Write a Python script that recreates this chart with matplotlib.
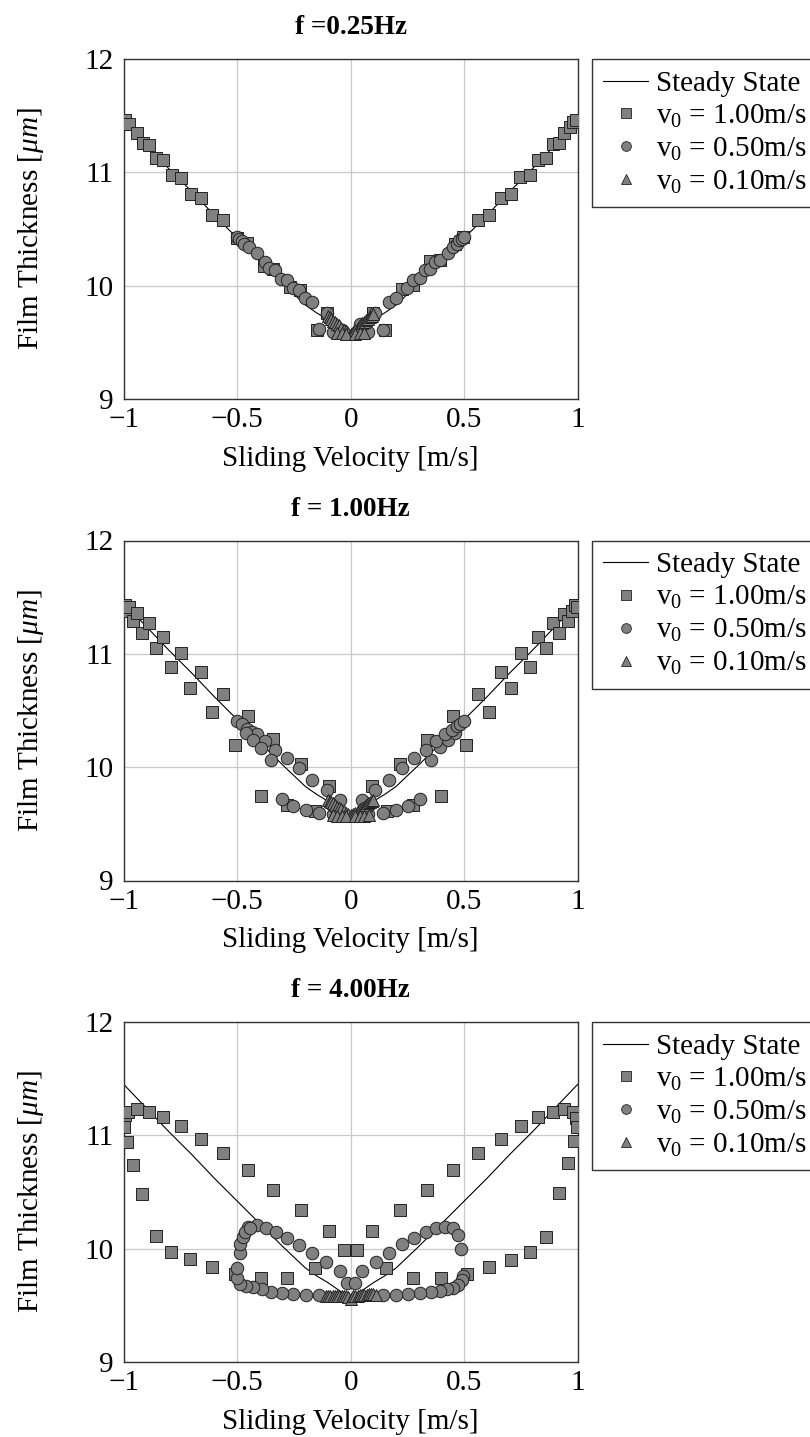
import matplotlib
matplotlib.use("Agg")
import matplotlib.pyplot as plt
from matplotlib.lines import Line2D

plt.rcParams['font.family'] = ['Liberation Serif', 'DejaVu Serif']
plt.rcParams['mathtext.fontset'] = 'custom'
plt.rcParams['mathtext.rm'] = 'Liberation Serif'
plt.rcParams['mathtext.it'] = 'Liberation Serif:italic'
plt.rcParams['mathtext.bf'] = 'Liberation Serif:bold'
plt.rcParams['axes.unicode_minus'] = True

# ---------------- data ----------------
titles = ["f =0.25Hz", "f = 1.00Hz", "f = 4.00Hz"]
legend_labels = ["Steady State", r"v$_\mathregular{0}$ = 1.00m/s",
                 r"v$_\mathregular{0}$ = 0.50m/s", r"v$_\mathregular{0}$ = 0.10m/s"]
xticks = [-1, -0.5, 0, 0.5, 1]
xticklabels = ["\u22121", "\u22120.5", "0", "0.5", "1"]
yticks = [9, 10, 11, 12]

# steady state curve
ss_v = [-1.0, -0.9, -0.8, -0.7, -0.6, -0.5, -0.4, -0.3, -0.2, -0.15, -0.1, -0.05, 0.0,
        0.05, 0.1, 0.15, 0.2, 0.3, 0.4, 0.5, 0.6, 0.7, 0.8, 0.9, 1.0]
ss_h = [11.45, 11.24, 11.03, 10.83, 10.62, 10.42, 10.22, 10.02, 9.83, 9.76, 9.70, 9.63, 9.56,
        9.63, 9.70, 9.76, 9.83, 10.02, 10.22, 10.42, 10.62, 10.83, 11.03, 11.24, 11.45]

# ---- f = 0.25 Hz ----
sq1_x = [-0.994, -0.975, -0.943, -0.913, -0.888, -0.859, -0.828, -0.789, -0.749, -0.705, -0.661,
         -0.612, -0.564, -0.502, -0.458, -0.382, -0.341, -0.267, -0.223, -0.106, -0.150,
         0.100, 0.151, 0.225, 0.273, 0.349, 0.393, 0.459, 0.496, 0.562, 0.611, 0.661, 0.705,
         0.746, 0.790, 0.827, 0.859, 0.890, 0.919, 0.940, 0.966, 0.981, 0.993]
sq1_y = [11.46, 11.43, 11.35, 11.26, 11.24, 11.13, 11.11, 10.98, 10.95, 10.81, 10.77,
         10.62, 10.58, 10.42, 10.38, 10.17, 10.15, 9.99, 9.96, 9.76, 9.61,
         9.76, 9.61, 9.97, 10.01, 10.22, 10.23, 10.37, 10.43, 10.58, 10.62, 10.77, 10.81,
         10.96, 10.98, 11.11, 11.13, 11.25, 11.26, 11.35, 11.40, 11.44, 11.46]
ci1_x = [-0.502, -0.490, -0.480, -0.468, -0.446, -0.414, -0.377, -0.358, -0.333, -0.308, -0.282,
         -0.256, -0.226, -0.200, -0.169, -0.106, -0.138, -0.076, -0.040,
         0.040, 0.078, 0.107, 0.144, 0.170, 0.200, 0.250, 0.276, 0.305, 0.327, 0.349, 0.371,
         0.393, 0.430, 0.452, 0.467, 0.479, 0.489, 0.501]
ci1_y = [10.43, 10.41, 10.39, 10.37, 10.34, 10.29, 10.21, 10.16, 10.14, 10.06, 10.05,
         9.98, 9.96, 9.89, 9.86, 9.76, 9.62, 9.59, 9.61,
         9.66, 9.59, 9.76, 9.61, 9.86, 9.89, 9.98, 10.05, 10.07, 10.14, 10.15, 10.21,
         10.23, 10.29, 10.34, 10.37, 10.40, 10.41, 10.43]
tr1_x = [-0.100, -0.092, -0.085, -0.077, -0.069, -0.060, -0.051, -0.041, -0.031, -0.021, -0.010,
         0.000, 0.010, 0.021, 0.031, 0.041, 0.051, 0.060, 0.069, 0.077, 0.085, 0.092, 0.100,
         -0.060, -0.040, -0.020, 0.020, 0.040, 0.060]
tr1_y = [9.73, 9.72, 9.71, 9.69, 9.68, 9.66, 9.65, 9.63, 9.61, 9.60, 9.58,
         9.57, 9.59, 9.61, 9.63, 9.65, 9.67, 9.68, 9.70, 9.71, 9.72, 9.73, 9.75,
         9.58, 9.58, 9.57, 9.57, 9.58, 9.58]

# ---- f = 1.00 Hz ----
sq2_x = [-0.994, -0.985, -0.975, -0.960, -0.943, -0.918, -0.888, -0.859, -0.828, -0.791, -0.749,
         -0.708, -0.661, -0.612, -0.564, -0.510, -0.454, -0.396, -0.341, -0.282, -0.219,
         -0.157, -0.095,
         0.093, 0.159, 0.217, 0.276, 0.335, 0.396, 0.452, 0.508, 0.562, 0.611, 0.662, 0.706,
         0.750, 0.790, 0.827, 0.860, 0.890, 0.919, 0.940, 0.959, 0.974, 0.988, 0.996]
sq2_y = [11.43, 11.38, 11.41, 11.29, 11.36, 11.18, 11.27, 11.05, 11.15, 10.88, 11.01,
         10.70, 10.84, 10.49, 10.65, 10.20, 10.45, 9.75, 10.25, 9.67, 10.03,
         9.61, 9.83,
         9.83, 9.61, 10.03, 9.67, 10.24, 9.75, 10.45, 10.20, 10.65, 10.49, 10.84, 10.70,
         11.01, 10.88, 11.15, 11.05, 11.27, 11.18, 11.35, 11.29, 11.38, 11.43, 11.41]
ci2_x = [-0.502, -0.480, -0.458, -0.436, -0.414, -0.377, -0.333, -0.282, -0.226, -0.169, -0.106,
         -0.047, -0.461, -0.429, -0.396, -0.352, -0.304, -0.256, -0.198, -0.139, -0.076,
         0.078, 0.141, 0.200, 0.254, 0.305, 0.352, 0.394, 0.430, 0.460,
         0.048, 0.107, 0.170, 0.228, 0.279, 0.332, 0.376, 0.416, 0.445, 0.467, 0.482, 0.501]
ci2_y = [10.41, 10.38, 10.34, 10.31, 10.29, 10.23, 10.15, 10.08, 9.99, 9.89, 9.80,
         9.71, 10.30, 10.24, 10.17, 10.06, 9.72, 9.66, 9.62, 9.60, 9.59,
         9.59, 9.60, 9.62, 9.66, 9.72, 10.06, 10.18, 10.24, 10.30,
         9.71, 9.80, 9.89, 9.99, 10.08, 10.15, 10.23, 10.29, 10.33, 10.36, 10.38, 10.41]
tr2_x = [-0.100, -0.092, -0.085, -0.077, -0.069, -0.060, -0.051, -0.041, -0.031, -0.021, -0.010,
         0.000, 0.010, 0.021, 0.031, 0.041, 0.051, 0.060, 0.069, 0.077, 0.085, 0.092, 0.100,
         -0.080, -0.060, -0.040, -0.020, 0.020, 0.040, 0.060, 0.080]
tr2_y = [9.71, 9.70, 9.69, 9.68, 9.67, 9.65, 9.64, 9.63, 9.61, 9.60, 9.59,
         9.58, 9.59, 9.60, 9.61, 9.63, 9.64, 9.65, 9.67, 9.68, 9.69, 9.70, 9.71,
         9.58, 9.57, 9.57, 9.57, 9.57, 9.57, 9.57, 9.58]

# ---- f = 4.00 Hz ----
sq3_x = [-0.994, -0.999, -0.987, -0.960, -0.918, -0.859, -0.791, -0.708, -0.612, -0.510, -0.396,
         -0.279, -0.157, -0.029,
         -0.979, -0.940, -0.888, -0.828, -0.749, -0.661, -0.564, -0.454, -0.341, -0.219, -0.095,
         0.029, 0.093, 0.217, 0.338, 0.452, 0.562, 0.661, 0.750, 0.827, 0.890, 0.940, 0.978,
         0.993, 0.996, 0.984, 0.959, 0.918, 0.860, 0.790, 0.706, 0.611, 0.511, 0.396, 0.276, 0.156]
sq3_y = [11.18, 11.07, 10.94, 10.74, 10.48, 10.11, 9.97, 9.91, 9.84, 9.78, 9.74,
         9.74, 9.83, 9.99,
         11.21, 11.23, 11.21, 11.16, 11.08, 10.97, 10.84, 10.69, 10.52, 10.34, 10.16,
         9.99, 10.16, 10.34, 10.52, 10.69, 10.84, 10.97, 11.08, 11.16, 11.21, 11.23, 11.21,
         11.15, 11.07, 10.95, 10.76, 10.49, 10.10, 9.97, 9.90, 9.84, 9.78, 9.74, 9.74, 9.83]
ci3_x = [-0.451, -0.414, -0.374, -0.330, -0.282, -0.226, -0.169, -0.109, -0.047, -0.018,
         0.019, 0.048, 0.110, 0.170, 0.228, 0.279, 0.332, 0.376, 0.416, 0.449, 0.471, 0.486,
         0.496, 0.489, 0.474, 0.449, 0.423, 0.394, 0.352, 0.305, 0.254, 0.198, 0.141,
         -0.139, -0.198, -0.256, -0.304, -0.352, -0.392, -0.429, -0.461, -0.488, -0.499, -0.499,
         -0.488, -0.488, -0.473, -0.465, -0.443]
ci3_y = [10.19, 10.21, 10.18, 10.15, 10.09, 10.03, 9.96, 9.88, 9.80, 9.70,
         9.70, 9.80, 9.88, 9.96, 10.04, 10.09, 10.15, 10.18, 10.19, 10.18, 10.12, 10.00,
         9.76, 9.72, 9.68, 9.65, 9.64, 9.63, 9.62, 9.61, 9.60, 9.59, 9.59,
         9.59, 9.59, 9.60, 9.61, 9.62, 9.64, 9.66, 9.67, 9.69, 9.74, 9.83,
         9.96, 10.04, 10.10, 10.15, 10.18]
tr3_x = [-0.110, -0.100, -0.090, -0.080, -0.070, -0.060, -0.050, -0.040, -0.030, -0.020, -0.010,
         0.000, 0.010, 0.020, 0.030, 0.040, 0.050, 0.060, 0.070, 0.080, 0.090, 0.100, 0.110]
tr3_y = [9.58, 9.58, 9.58, 9.58, 9.58, 9.58, 9.58, 9.58, 9.58, 9.58, 9.57,
         9.56, 9.58, 9.58, 9.58, 9.59, 9.59, 9.59, 9.59, 9.60, 9.60, 9.60, 9.59]

panels = [
    (sq1_x, sq1_y, ci1_x, ci1_y, tr1_x, tr1_y),
    (sq2_x, sq2_y, ci2_x, ci2_y, tr2_x, tr2_y),
    (sq3_x, sq3_y, ci3_x, ci3_y, tr3_x, tr3_y),
]

# ---------------- figure ----------------
W, H = 810, 1437
fig = plt.figure(figsize=(W / 100, H / 100), dpi=100)
ax_left = 123.7 / W
ax_w = 454 / W
ax_h = 340 / H
tops = [59, 540.5, 1022]

face = '#808080'
fs = 21

for i, (sx, sy, cx, cy, tx, ty) in enumerate(panels):
    bottom = 1 - (tops[i] + 340) / H
    ax = fig.add_axes([ax_left, bottom, ax_w, ax_h])
    ax.plot(ss_v, ss_h, color='black', lw=0.8, zorder=2)
    ax.plot(sx, sy, ls='none', marker='s', ms=9.2, mfc=face, mec='#222222', mew=0.7, zorder=3)
    ax.plot(cx, cy, ls='none', marker='o', ms=9.0, mfc=face, mec='#222222', mew=0.7, zorder=4)
    ax.plot(tx, ty, ls='none', marker='^', ms=8.5, mfc=face, mec='#222222', mew=0.7, zorder=5)
    ax.set_xlim(-1, 1)
    ax.set_ylim(9, 12)
    ax.set_xticks(xticks)
    ax.set_xticklabels(xticklabels)
    ax.set_yticks(yticks)
    ax.tick_params(axis='x', length=0, labelsize=fs, pad=6)
    ax.tick_params(axis='y', length=0, labelsize=fs, pad=7)
    ax.grid(True, color='#c8c8c8', lw=0.9)
    ax.set_axisbelow(True)
    for sp in ax.spines.values():
        sp.set_color('#333333')
        sp.set_linewidth(1.0)
    ax.set_xlabel("Sliding Velocity [m/s]", fontsize=fs, labelpad=9)
    ax.set_ylabel(r"Film Thickness [$\mu m$]", fontsize=fs, labelpad=28)
    ax.set_title(titles[i], fontsize=19.5, fontweight='bold', pad=18)

    handles = [
        Line2D([], [], color='black', lw=0.8),
        Line2D([], [], ls='none', marker='s', ms=7.0, mfc=face, mec='#222222', mew=0.6),
        Line2D([], [], ls='none', marker='o', ms=7.0, mfc=face, mec='#222222', mew=0.6),
        Line2D([], [], ls='none', marker='^', ms=6.5, mfc=face, mec='#222222', mew=0.6),
    ]
    leg = ax.legend(handles, legend_labels, loc='upper left', bbox_to_anchor=(1.031, 1.0),
                    borderaxespad=0, fontsize=fs, frameon=True, fancybox=False,
                    framealpha=1, edgecolor='#333333', handlelength=1.55, handletextpad=0.25,
                    labelspacing=0.2, borderpad=0.39)
    leg.get_frame().set_linewidth(1.0)

fig.savefig("out.png", dpi=100)
